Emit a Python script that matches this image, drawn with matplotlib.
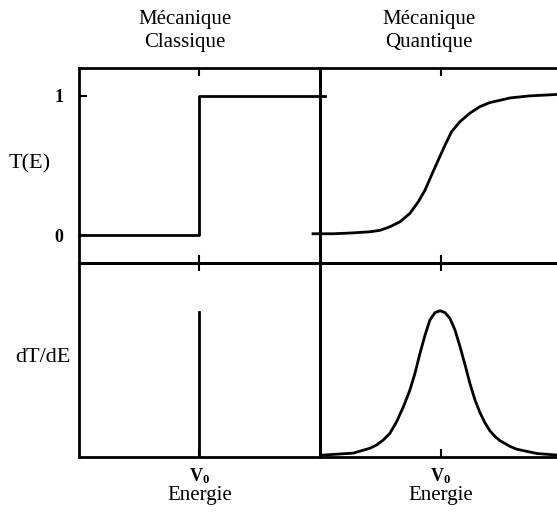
import numpy as np
import matplotlib
matplotlib.use("Agg")
import matplotlib.pyplot as plt

# Valeurs (E en unites arbitraires, V0 au milieu)
V0 = 5.0
E_lim = (0.0, 10.0)

# Mecanique classique : marche et pic de Dirac
classique_E = [0.0, 5.0, 5.0, 10.2]
classique_T = [0.0, 0.0, 1.0, 1.0]
pic_E = [5.0, 5.0]
pic_dT = [0.0, 0.75]

# Mecanique quantique : transmission progressive
quantique_E = [-0.29, 0.54, 1.24, 2.07, 2.50, 2.90, 3.32, 3.73, 4.08, 4.36, 4.63, 4.91,
               5.19, 5.46, 5.81, 6.22, 6.64, 7.05, 7.47, 7.88, 8.71, 9.83]
quantique_T = [0.01, 0.01, 0.015, 0.024, 0.035, 0.06, 0.096, 0.156, 0.240, 0.324, 0.432, 0.540,
               0.647, 0.743, 0.815, 0.876, 0.923, 0.952, 0.968, 0.985, 1.0, 1.01]
derivee_E = [0.14, 1.38, 2.07, 2.35, 2.63, 2.90, 3.18, 3.46, 3.73, 3.94, 4.15, 4.36, 4.56,
             4.77, 4.98, 5.19, 5.39, 5.60, 5.81, 6.02, 6.22, 6.43, 6.64, 6.85, 7.05, 7.26,
             7.47, 7.88, 8.17, 9.0, 9.83]
derivee_dT = [0.01, 0.02, 0.045, 0.062, 0.088, 0.122, 0.182, 0.259, 0.345, 0.431, 0.535, 0.629,
              0.706, 0.744, 0.754, 0.744, 0.715, 0.655, 0.569, 0.474, 0.380, 0.294, 0.228,
              0.175, 0.135, 0.106, 0.084, 0.055, 0.04, 0.018, 0.01]

titres = ["Mécanique\nClassique", "Mécanique\nQuantique"]

plt.rcParams['font.family'] = ['Liberation Serif', 'DejaVu Serif']
plt.rcParams['mathtext.fontset'] = 'custom'
plt.rcParams['mathtext.rm'] = 'Liberation Serif'
plt.rcParams['mathtext.bf'] = 'Liberation Serif:bold'

W, H = 557, 514
fig = plt.figure(figsize=(W / 100, H / 100), dpi=100)

def px_axes(x0, y0, x1, y1):
    # rectangle en pixels (origine en haut a gauche)
    return fig.add_axes([x0 / W, 1 - y1 / H, (x1 - x0) / W, (y1 - y0) / H])

ax_tl = px_axes(79, 68, 320, 263)
ax_bl = px_axes(79, 263, 320, 457)
ax_tr = px_axes(320, 68, 561, 263)
ax_br = px_axes(320, 263, 561, 457)

lw = 2.0
for ax in [ax_tl, ax_bl, ax_tr, ax_br]:
    ax.set_facecolor('none')
    ax.set_xlim(E_lim)
    for s in ax.spines.values():
        s.set_linewidth(lw)
    ax.set_xticks([V0])
    ax.tick_params(axis='x', direction='in', length=6, width=1.5, top=True, bottom=True,
                   labelbottom=False)
    ax.set_yticks([])
for ax in [ax_tl, ax_tr]:
    ax.set_ylim(-0.2, 1.2)
for ax in [ax_bl, ax_br]:
    ax.set_ylim(0, 1)
ax_tr.spines['right'].set_visible(False)
ax_br.spines['right'].set_visible(False)

# T(E)
ax_tl.set_yticks([0, 1], ['0', '1'])
ax_tl.tick_params(axis='y', direction='in', length=6, width=1.5, pad=11, labelsize=13)
for lab in ax_tl.get_yticklabels():
    lab.set_fontweight('bold')

ax_tl.plot(classique_E, classique_T, color='black', lw=lw, clip_on=False)
ax_bl.plot(pic_E, pic_dT, color='black', lw=lw)
ax_tr.plot(quantique_E, quantique_T, color='black', lw=lw, clip_on=False, solid_joinstyle='round')
ax_br.plot(derivee_E, derivee_dT, color='black', lw=lw, solid_joinstyle='round')

for ax in [ax_bl, ax_br]:
    ax.set_xticks([V0], [r'$\mathbf{V_0}$'])
    ax.tick_params(axis='x', labelbottom=True, labelsize=13, pad=7)
    ax.set_xlabel("Energie", fontsize=15, labelpad=0)

fig.text(30 / W, 1 - 164 / H, "T(E)", fontsize=16, ha='center', va='center')
fig.text(43 / W, 1 - 358 / H, "dT/dE", fontsize=16, ha='center', va='center')
fig.text(185 / W, 1 - 31 / H, titres[0], fontsize=15, ha='center', va='center', linespacing=1.35)
fig.text(429 / W, 1 - 31 / H, titres[1], fontsize=15, ha='center', va='center', linespacing=1.35)

fig.savefig("out.png", dpi=100)
